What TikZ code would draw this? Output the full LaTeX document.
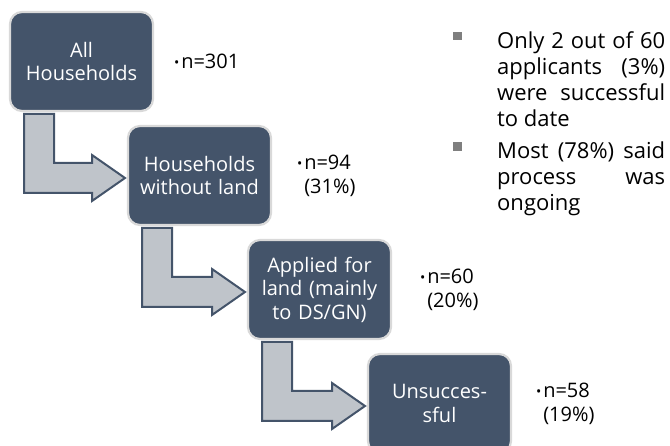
\documentclass[tikz,border=0pt]{standalone}
\usepackage{fontspec}
\setmainfont{Open Sans}
\usetikzlibrary{positioning, calc}
\definecolor{boxSlate}{HTML}{44546A}
\definecolor{boxEdge}{HTML}{D9D9D9}
\definecolor{bendFill}{HTML}{BFC4CA}
\definecolor{squareGray}{HTML}{7F7F7F}
\tikzstyle{fBox} = [rectangle, rounded corners=12pt, minimum width=143pt, minimum height=99pt, inner xsep=2pt, text width=139pt, align=center, outer sep=0pt, draw=boxEdge, line width=2.2pt, fill=boxSlate, text=white, font=\fontsize{20}{23.5}\selectfont]
\tikzstyle{fCount} = [inner sep=0pt, outer sep=0pt, align=left, font=\fontsize{20}{24}\selectfont]
\tikzstyle{fBend} = [draw=boxSlate, line width=2pt, fill=bendFill, line join=miter]
\tikzstyle{fSquare} = [rectangle, fill=squareGray, minimum size=8.5pt, inner sep=0pt]
\tikzstyle{fNote} = [inner sep=0pt, text width=168pt, align=justify, font=\fontsize{22}{26}\selectfont]
\newcommand{\dotMark}{{\fontsize{14}{14}\selectfont\raisebox{1pt}{\textbullet}}\hspace{2pt}}
% bent block arrow from one box down and into the next one
\newcommand{\bendArrow}[2]{%
    \coordinate (stemTop) at ($(#1.south west)+(14,-3)$);
    \coordinate (headTip) at ($(#2.west)+(-3,-2.5)$);
    \draw [fBend] (stemTop) -- ($(stemTop |- headTip)+(0,-15)$) -- ($(headTip)+(-33,-15)$) -- ($(headTip)+(-33,-23)$) -- (headTip) -- ($(headTip)+(-33,23)$) -- ($(headTip)+(-33,15)$) -- ($(stemTop |- headTip)+(30,15)$) -- ($(stemTop)+(30,0)$) -- cycle;
}

\begin{document}
\begin{tikzpicture}[x=1pt, y=1pt]
    \useasboundingbox (0,0) rectangle (670,-446);
    \clip (0,0) rectangle (670,-446);

    \node (all) [fBox, anchor=north west] at (10,-12) {All\\Households};
    \node (noLand) [fBox, below right=15pt and -25pt of all] {Households\\without land};
    \node (applied) [fBox, below right=15pt and -23pt of noLand] {Applied for\\land (mainly\\to DS/GN)};
    \node (failed) [fBox, below right=15pt and -23pt of applied] {Unsucces-\\sful};

    \node (nAll) [fCount, right=21pt of all] {\dotMark n=301};
    \node (nNoLand) [fCount, right=26pt of noLand] {\dotMark n=94\\\phantom{\dotMark}(31\%)};
    \node (nApplied) [fCount, right=29pt of applied] {\dotMark n=60\\\phantom{\dotMark}(20\%)};
    \node (nFailed) [fCount, right=25pt of failed] {\dotMark n=58\\\phantom{\dotMark}(19\%)};

    \bendArrow{all}{noLand}
    \bendArrow{noLand}{applied}
    \bendArrow{applied}{failed}

    \node (noteA) [fNote, anchor=north west] at (497,-31) {Only 2 out of 60\linebreak applicants (3\%)\linebreak were successful\linebreak to date};
    \node (noteB) [fNote, below=15pt of noteA] {Most (78\%) said\linebreak process was\linebreak ongoing};
    \node (sqA) [fSquare] at ($(noteA.north west)+(-39.5,-5)$) {};
    \node (sqB) [fSquare] at ($(noteB.north west)+(-39.5,-5)$) {};
\end{tikzpicture}
\end{document}
